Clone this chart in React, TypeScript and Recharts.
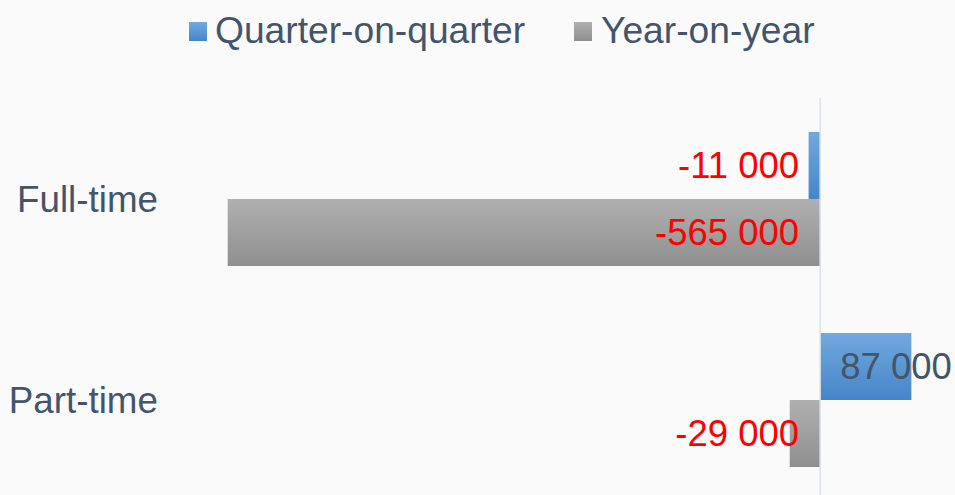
import { BarChart, Bar, XAxis, YAxis, Legend, LabelList, ReferenceLine } from 'recharts';

// categories and series
const categories = ['Full-time', 'Part-time'];
const quarterOnQuarter = [-11000, 87000];
const yearOnYear = [-565000, -29000];
const seriesNames = ['Quarter-on-quarter', 'Year-on-year'];
const xDomain = [-600000, 100000];

const data = categories.map((name, i) => ({
  name,
  qoq: quarterOnQuarter[i],
  yoy: yearOnYear[i],
}));

const FONT = '"Liberation Sans", Arial, sans-serif';
const TEXT = '#44546a';

const fmt = (v: number) =>
  (v < 0 ? '-' : '') + Math.abs(v).toString().replace(/\B(?=(\d{3})+(?!\d))/g, ' ');

function BaseLabel(props: any) {
  const { x, y, width, height, value } = props;
  const left = Math.min(x, x + width);
  const right = Math.max(x, x + width);
  const base = value < 0 ? right : left;
  const neg = value < 0;
  return (
    <text
      x={neg ? base - 21 : base + 20}
      y={y + height / 2}
      textAnchor={neg ? 'end' : 'start'}
      dominantBaseline="central"
      fontSize={36.5}
      fontFamily={FONT}
      fill={neg ? '#ff0000' : TEXT}
    >
      {fmt(value)}
    </text>
  );
}

function LegendBox() {
  const items = [
    { name: seriesNames[0], grad: 'linear-gradient(#72a9de, #4585c8)', left: 189, textLeft: 215 },
    { name: seriesNames[1], grad: 'linear-gradient(#b0b0b0, #8f8f8f)', left: 574, textLeft: 601 },
  ];
  return (
    <div style={{ position: 'relative', width: 955, height: 98 }}>
      {items.map((it) => (
        <div key={it.name}>
          <div
            style={{
              position: 'absolute',
              left: it.left,
              top: 22,
              width: 18,
              height: 19,
              background: it.grad,
            }}
          />
          <div
            style={{
              position: 'absolute',
              left: it.textLeft,
              top: 12,
              fontSize: 37.2,
              lineHeight: '36px',
              fontFamily: FONT,
              color: TEXT,
              whiteSpace: 'nowrap',
            }}
          >
            {it.name}
          </div>
        </div>
      ))}
    </div>
  );
}

export default function App() {
  return (
    <div
      style={{
        position: 'absolute',
        left: 0,
        top: 0,
        width: 955,
        height: 495,
        overflow: 'hidden',
        background: '#fafafa',
        fontFamily: FONT,
      }}
    >
      <BarChart
        width={955}
        height={500}
        data={data}
        layout="vertical"
        margin={{ top: 0, right: 30, left: 0, bottom: 0 }}
        barGap={0}
      >
        <defs>
          <linearGradient id="gBlue" x1="0" y1="0" x2="0" y2="1">
            <stop offset="0%" stopColor="#72a9de" />
            <stop offset="100%" stopColor="#4585c8" />
          </linearGradient>
          <linearGradient id="gGray" x1="0" y1="0" x2="0" y2="1">
            <stop offset="0%" stopColor="#b0b0b0" />
            <stop offset="100%" stopColor="#8f8f8f" />
          </linearGradient>
        </defs>
        <Legend
          verticalAlign="top"
          align="left"
          wrapperStyle={{ top: 0, left: 0 }}
          content={() => <LegendBox />}
        />
        <XAxis type="number" domain={xDomain} hide />
        <YAxis
          type="category"
          dataKey="name"
          width={191}
          axisLine={false}
          tickLine={false}
          tickSize={0}
          tickMargin={33}
          tick={{ fontSize: 36.8, fill: TEXT, fontFamily: FONT }}
        />
        <Bar dataKey="qoq" name={seriesNames[0]} fill="url(#gBlue)" barSize={67} isAnimationActive={false}>
          <LabelList dataKey="qoq" content={BaseLabel} />
        </Bar>
        <Bar dataKey="yoy" name={seriesNames[1]} fill="url(#gGray)" barSize={67} isAnimationActive={false}>
          <LabelList dataKey="yoy" content={BaseLabel} />
        </Bar>
        <ReferenceLine x={0} stroke="#dde2ea" strokeWidth={1.5} />
      </BarChart>
    </div>
  );
}
